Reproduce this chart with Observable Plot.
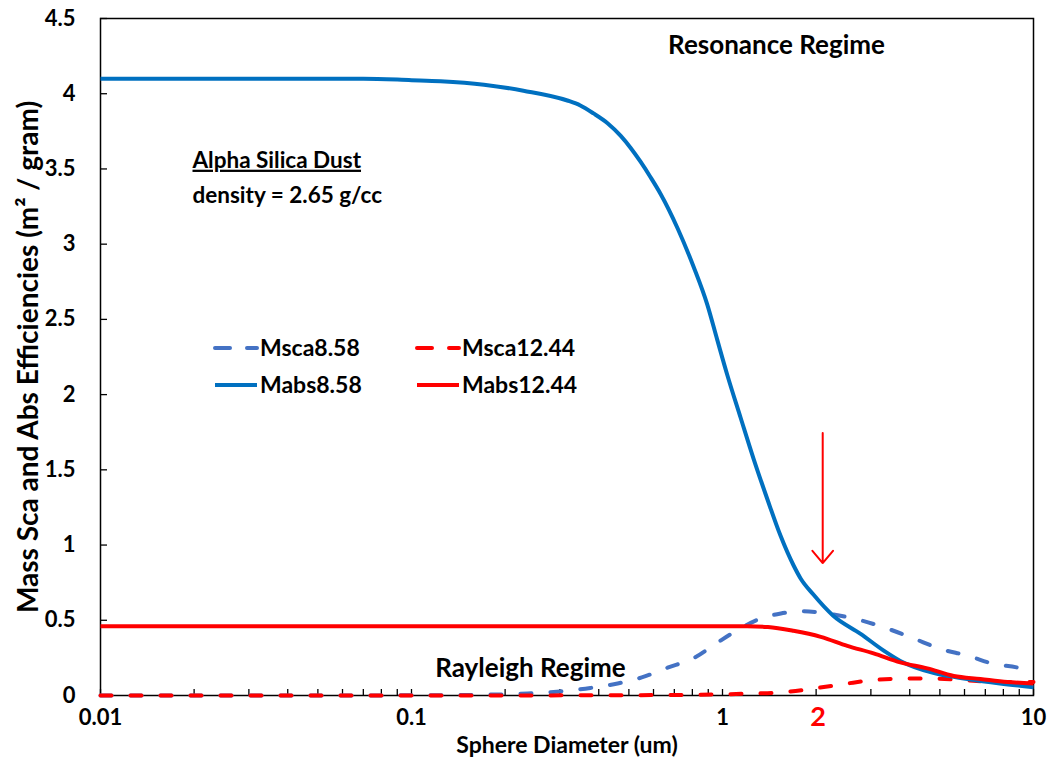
<!DOCTYPE html>
<html>
<head>
<meta charset="utf-8">
<script src="https://cdn.jsdelivr.net/npm/d3@7"></script>
<script src="https://cdn.jsdelivr.net/npm/@observablehq/plot@0.6"></script>
<style>
  body { margin: 0; background: #fff; }
  #chart svg { font-family: Lato, "Open Sans", sans-serif; }
</style>
</head>
<body>
<div id="chart"></div>
<script>
// ---- Data ----
const mabs858X = [0.01, 0.05, 0.07, 0.1, 0.124, 0.171, 0.229, 0.317, 0.349, 0.385, 0.427, 0.470, 0.506, 0.545, 0.587, 0.633, 0.717, 0.809, 0.893, 0.961, 1.035, 1.143, 1.258, 1.395, 1.536, 1.693, 1.783, 1.96, 2.27, 2.78, 3.29, 3.73, 4.76, 6.13, 7.8, 10];
const mabs858Y = [4.10, 4.10, 4.10, 4.09, 4.083, 4.06, 4.02, 3.955, 3.922, 3.869, 3.804, 3.721, 3.641, 3.548, 3.445, 3.332, 3.106, 2.845, 2.60, 2.367, 2.134, 1.848, 1.575, 1.303, 1.063, 0.864, 0.778, 0.671, 0.53, 0.41, 0.30, 0.23, 0.15, 0.11, 0.08, 0.055];

const msca858X = [0.01, 0.1, 0.2, 0.236, 0.30, 0.376, 0.46, 0.55, 0.666, 0.81, 0.96, 1.14, 1.32, 1.54, 1.82, 2.17, 2.78, 3.39, 4.11, 5.02, 6.13, 7.45, 9.1, 10];
const msca858Y = [0, 0.001, 0.008, 0.013, 0.027, 0.05, 0.08, 0.12, 0.185, 0.25, 0.35, 0.445, 0.51, 0.545, 0.56, 0.545, 0.50, 0.445, 0.38, 0.31, 0.265, 0.21, 0.18, 0.15];

const mabs1244X = [0.01, 0.1, 1.0, 1.2, 1.40, 1.69, 2.07, 2.52, 3.06, 3.73, 4.56, 5.54, 6.75, 8.24, 10];
const mabs1244Y = [0.46, 0.46, 0.46, 0.46, 0.455, 0.43, 0.39, 0.33, 0.28, 0.22, 0.18, 0.13, 0.11, 0.09, 0.08];

const msca1244X = [0.01, 0.1, 0.5, 1.0, 1.25, 1.54, 2.02, 2.52, 3.15, 3.93, 4.76, 6.13, 7.8, 10];
const msca1244Y = [0, 0, 0.002, 0.008, 0.013, 0.02, 0.05, 0.08, 0.105, 0.113, 0.113, 0.10, 0.09, 0.09];

const seriesNames = ["Msca8.58", "Msca12.44", "Mabs8.58", "Mabs12.44"];
const seriesColors = ["#4472C4", "#FF0000", "#0070C0", "#FF0000"];
const seriesDashed = [true, true, false, false];
const seriesX = [msca858X, msca1244X, mabs858X, mabs1244X];
const seriesY = [msca858Y, msca1244Y, mabs858Y, mabs1244Y];

const yTicks = [0, 0.5, 1, 1.5, 2, 2.5, 3, 3.5, 4, 4.5];
const xMajorTicks = [0.01, 0.1, 1, 10];
const xMinorTicks = [0.02,0.03,0.04,0.05,0.06,0.07,0.08,0.09, 0.2,0.3,0.4,0.5,0.6,0.7,0.8,0.9, 2,3,4,5,6,7,8,9];
const highlightX = [2.03];
const arrowX = [2.1];

// ---- Build table ----
const rows = seriesNames.map((name, k) => seriesX[k].map((x, i) => ({series: name, x, y: seriesY[k][i]})));

const FONT = "Lato, 'Open Sans', sans-serif";
const bold = {fontFamily: FONT, fontWeight: "bold", fill: "#000", lineAnchor: "middle"};

const lineMarks = rows.map((data, k) => Plot.line(data, {
  x: "x", y: "y",
  stroke: seriesColors[k],
  strokeWidth: 4,
  strokeDasharray: seriesDashed[k] ? "11,19" : null,
  strokeLinecap: seriesDashed[k] ? "round" : "butt",
  curve: "monotone-x"
}));

const chart = Plot.plot({
  width: 1048,
  height: 765,
  marginLeft: 100,
  marginRight: 15,
  marginTop: 18,
  marginBottom: 70,
  style: {background: "#fff", overflow: "visible"},
  x: {type: "log", domain: [0.01, 10]},
  y: {domain: [0, 4.5]},
  marks: [
    Plot.frame({stroke: "#000", strokeWidth: 1.5}),
    // y ticks (inside) and labels
    Plot.axisY({ticks: yTicks, tickSize: 7, dx: 7, tickFormat: () => "", label: null, strokeWidth: 1.3}),
    Plot.text(yTicks, {y: d => d, text: d => String(d), frameAnchor: "left", dx: -25, textAnchor: "end", fontSize: 22, ...bold}),
    // x ticks (inside) and labels
    Plot.axisX({ticks: [...xMajorTicks, ...xMinorTicks], tickSize: 6, dy: -6, tickFormat: () => "", label: null, strokeWidth: 1.3}),
    Plot.text(xMajorTicks, {x: d => d, text: d => String(d), frameAnchor: "bottom", dy: 22, fontSize: 22, ...bold}),
    ...lineMarks,
    // highlighted "2"
    Plot.text(highlightX, {x: d => d, text: () => "2", frameAnchor: "bottom", dy: 22, fontSize: 27, fontFamily: FONT, fontWeight: "bold", fill: "#FF0000", lineAnchor: "middle"}),
    // red arrow
    Plot.arrow(arrowX, {x1: d => d, x2: d => d, y1: 1.745, y2: 0.88, stroke: "#FF0000", strokeWidth: 2, headLength: 12, headAngle: 80}),
    // axis titles
    Plot.text(["Sphere Diameter (um)"], {frameAnchor: "bottom", dy: 50, fontSize: 23, textAnchor: "middle", ...bold}),
    Plot.text(["Mass Sca and Abs Efficiencies (m\u00B2 / gram)"], {frameAnchor: "left", dx: -71, rotate: -90, textAnchor: "middle", fontSize: 28, ...bold}),
    // annotations
    Plot.text(["Resonance Regime"], {frameAnchor: "top-left", dx: 676, dy: 27, textAnchor: "middle", fontSize: 26, ...bold}),
    Plot.text(["Alpha Silica Dust"], {frameAnchor: "top-left", dx: 92, dy: 142, textAnchor: "start", fontSize: 22.5, ...bold}),
    Plot.text(["density = 2.65 g/cc"], {frameAnchor: "top-left", dx: 92, dy: 177, textAnchor: "start", fontSize: 22.5, ...bold}),
    Plot.text(["Rayleigh Regime"], {frameAnchor: "top-left", dx: 430, dy: 650, textAnchor: "middle", fontSize: 26, ...bold})
  ]
});

document.getElementById("chart").appendChild(chart);

// underline "Alpha Silica Dust"
d3.select(chart).selectAll("text").filter(function() { return this.textContent === "Alpha Silica Dust"; })
  .style("text-decoration", "underline");

// ---- Legend (inside plot area) ----
const legendCols = [215, 417];
const legendRows = [348, 385];
const lg = d3.select(chart).append("g").attr("text-anchor", "start");
seriesNames.forEach((name, k) => {
  const lx = legendCols[k % 2], ly = legendRows[Math.floor(k / 2)];
  lg.append("line")
    .attr("x1", lx).attr("x2", lx + 42).attr("y1", ly).attr("y2", ly)
    .attr("stroke", seriesColors[k]).attr("stroke-width", 4)
    .attr("stroke-dasharray", seriesDashed[k] ? "15,17" : null)
    .attr("stroke-linecap", seriesDashed[k] ? "round" : "butt");
  lg.append("text")
    .attr("x", lx + 45).attr("y", ly).attr("dy", "0.35em")
    .attr("text-anchor", "start")
    .style("font-family", FONT).style("font-weight", "bold").style("font-size", "23px")
    .attr("fill", "#000")
    .text(name);
});
</script>
</body>
</html>
